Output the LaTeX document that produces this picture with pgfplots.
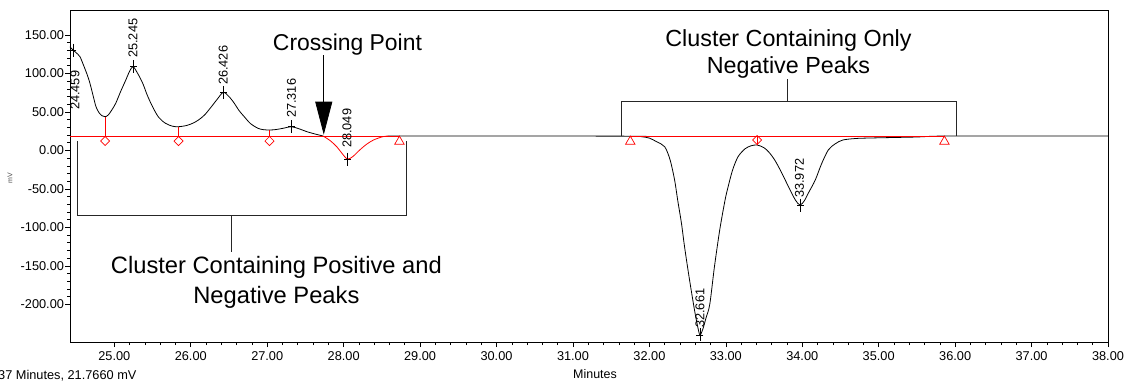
\documentclass[border=0pt]{standalone}
\usepackage{fontspec}
\setmainfont{Liberation Sans}
\usepackage{pgfplots}
\pgfplotsset{compat=1.18}
\usetikzlibrary{arrows.meta}
\begin{document}
\begin{tikzpicture}
\useasboundingbox (0,0) rectangle (1140bp,381bp);
\begin{axis}[
  at={(70bp,39bp)}, anchor=south west,
  scale only axis, width=1038bp, height=332bp,
  xmin=24.42, xmax=38, ymin=-249, ymax=182.5,
  xtick={25,...,38}, ytick={-200,-150,...,150},
  minor x tick num=4, minor y tick num=4,
  tick align=outside, tick pos=left,
  major tick length=5bp, minor tick length=3bp,
  tick style={black, line width=0.6pt},
  axis line style={black, line width=0.8pt},
  ticklabel style={font=\fontsize{12.8}{14}\selectfont},
  yticklabel style={xshift=2.5bp},
  xticklabel style={yshift=-1.5bp},
  /pgf/number format/fixed, /pgf/number format/fixed zerofill,
  /pgf/number format/precision=2, /pgf/number format/1000 sep={},
  /pgf/number format/assume math mode=true,
  clip=false,
]
% main trace (black, left cluster)
\addplot[black, line width=0.8pt, smooth, tension=0.5] coordinates {
(24.42,134.8) (24.44,132.5) (24.46,130.5) (24.50,127) (24.55,121.8) (24.60,110)
(24.65,97) (24.68,87.6) (24.72,72) (24.76,56.8) (24.80,49) (24.84,45) (24.88,43.8)
(24.92,46) (24.97,53) (25.02,61.6) (25.08,76) (25.15,91.5) (25.20,103) (25.245,108.8)
(25.30,101) (25.37,87.6) (25.43,72) (25.50,56.8) (25.58,43) (25.67,35.2) (25.76,31.5)
(25.84,30.8) (25.95,32.5) (26.03,35.5) (26.10,39.5) (26.18,46) (26.27,56.8) (26.35,67)
(26.426,75.5) (26.50,70) (26.57,61.2) (26.63,52) (26.70,43.8) (26.78,35) (26.88,28.7)
(26.95,27) (27.03,26.5) (27.12,27.2) (27.22,29) (27.316,30.8) (27.42,28) (27.52,24.3)
(27.62,21.5) (27.73,18.7)};
% negative part of first cluster (red)
\addplot[red, line width=0.8pt, smooth, tension=0.5] coordinates {
(27.73,18.7) (27.82,13) (27.91,4.8) (27.98,-4) (28.049,-11.2) (28.12,-8) (28.21,0.5)
(28.30,8) (28.39,13.5) (28.51,17.8) (28.58,18.7)};
% trace from 28.58 to the end
\addplot[black, line width=0.8pt, smooth, tension=0.5] coordinates {
(28.58,18.7) (30.00,18.7) (31.80,18.5) (31.90,17.8) (32.00,16) (32.10,11) (32.20,4.8) (32.27,-12)
(32.33,-38.5) (32.37,-64.5) (32.42,-95) (32.46,-125.2) (32.52,-165) (32.59,-207.4)
(32.63,-228) (32.661,-239.9) (32.70,-232) (32.74,-218) (32.79,-200) (32.85,-152)
(32.92,-103.5) (32.99,-64.5) (33.03,-47.2) (33.09,-25) (33.16,-8.2) (33.25,2) (33.33,6)
(33.41,7.0) (33.50,3.5) (33.57,-3) (33.64,-12.5) (33.72,-27) (33.82,-47.2) (33.91,-64.5)
(33.972,-71.0) (34.03,-65) (34.08,-55.4) (34.17,-38.5) (34.25,-18) (34.34,0.5)
(34.43,8.5) (34.53,13.5) (34.70,15.5) (34.87,16.1) (35.20,16.8) (35.49,17.4)
(35.86,18.7) (37.00,18.7) (38.00,18.7)};
% red baselines
\addplot[red, line width=0.8pt] coordinates {(24.42,18.7) (28.73,18.7)};
\addplot[red, line width=0.8pt] coordinates {(31.75,18.7) (35.86,18.7)};
% red drop lines
\addplot[red, line width=0.8pt] coordinates {(24.88,43.8) (24.88,18.7)};
\addplot[red, line width=0.8pt] coordinates {(25.84,30.8) (25.84,18.7)};
\addplot[red, line width=0.8pt] coordinates {(27.03,26.5) (27.03,18.7)};
\addplot[red, line width=0.8pt] coordinates {(33.41,7.0) (33.41,18.7)};
% diamonds
\addplot[only marks, red, mark=square, mark size=3.2bp, mark options={rotate=45, line width=0.7pt}]
 coordinates {(24.88,12.2) (25.84,12.2) (27.03,12.2) (33.41,13.5)};
% triangles
\addplot[only marks, red, mark=triangle, mark size=5.5bp, mark options={line width=0.7pt}]
 coordinates {(28.73,11.5) (31.75,11.5) (35.86,11.5)};
% peak markers
\addplot[only marks, black, mark=|, mark size=6.5bp, mark options={line width=0.7pt}]
 coordinates {(24.459,130.5) (25.245,108.8) (26.426,75.5) (27.316,30.8) (28.049,-11.2) (32.661,-239.9) (33.972,-71.0)};
\addplot[only marks, black, mark=-, mark size=3.5bp, mark options={line width=0.7pt}]
 coordinates {(24.459,130.5) (25.245,108.8) (26.426,75.5) (27.316,30.8) (28.049,-11.2) (32.661,-239.9) (33.972,-71.0)};
% peak labels
\begin{scope}[every node/.style={rotate=90, anchor=west, inner sep=0pt, font=\fontsize{12.8}{14}\selectfont}]
\node at (axis cs:24.485,52.5) {24.459};
\node at (axis cs:25.245,120.1) {25.245};
\node at (axis cs:26.426,85.0) {26.426};
\node at (axis cs:27.316,42.1) {27.316};
\node at (axis cs:28.045,3.1) {28.049};
\node at (axis cs:32.661,-230.8) {32.661};
\node at (axis cs:33.965,-61.8) {33.972};
\end{scope}
% annotations
\node[anchor=north, inner sep=0pt, font=\fontsize{23}{29}\selectfont] at (axis cs:28.05,152.2) {Crossing Point};
\draw[black, line width=0.8pt, -{Triangle[width=17bp,length=33bp]}] (axis cs:27.74,124) -- (axis cs:27.74,20.5);
\draw[black!85, line width=0.8pt] (axis cs:24.52,12.2) -- (axis cs:24.52,-84) -- (axis cs:28.82,-84) -- (axis cs:28.82,12.2);
\draw[black!85, line width=0.8pt] (axis cs:26.53,-84) -- (axis cs:26.53,-131.7);
\node[anchor=north, inner sep=0pt, align=center, font=\fontsize{23.8}{30}\selectfont] at (axis cs:27.12,-137.2) {Cluster Containing Positive and\\Negative Peaks};
\draw[black!85, line width=0.8pt] (axis cs:31.64,18.7) -- (axis cs:31.64,64.1) -- (axis cs:36.01,64.1) -- (axis cs:36.01,18.7);
\draw[black!85, line width=0.8pt] (axis cs:33.80,64.1) -- (axis cs:33.80,92.8);
\node[anchor=north, inner sep=0pt, align=center, font=\fontsize{23.4}{28}\selectfont] at (axis cs:33.82,157.8) {Cluster Containing Only\\Negative Peaks};
\end{axis}
\node[anchor=base, inner sep=0pt, font=\fontsize{12.5}{14}\selectfont] at (595bp,3bp) {Minutes};
\node[anchor=base west, inner sep=0pt, font=\fontsize{12.8}{14}\selectfont] at (-2bp,2bp) {37 Minutes, 21.7660 mV};
\node[rotate=90, inner sep=0pt, font=\fontsize{7}{8}\selectfont, black!70] at (10bp,203bp) {mV};
\end{tikzpicture}
\end{document}
